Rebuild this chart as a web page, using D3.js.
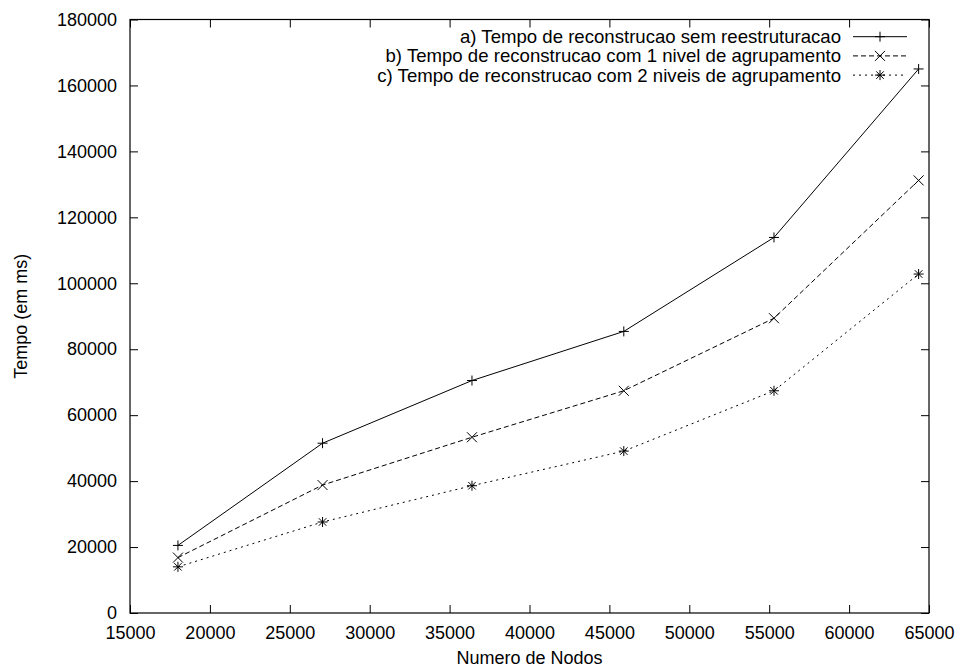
<!DOCTYPE html>
<html>
<head>
<meta charset="utf-8">
<script src="https://cdn.jsdelivr.net/npm/d3@7"></script>
<style>
  body { margin: 0; background: #fff; }
  text { font-family: "Liberation Sans", Arial, Helvetica, sans-serif; fill: #000; }
</style>
</head>
<body>
<script>
// #### data ####
var nodos = [18000, 27050, 36400, 45900, 55300, 64350];
var semReestr = [20500, 51500, 70500, 85400, 113900, 165000];
var umNivel = [16800, 38800, 53300, 67400, 89400, 131200];
var doisNiveis = [14000, 27600, 38600, 49100, 67400, 102800];

var xTicks = [15000, 20000, 25000, 30000, 35000, 40000, 45000, 50000, 55000, 60000, 65000];
var yTicks = [0, 20000, 40000, 60000, 80000, 100000, 120000, 140000, 160000, 180000];

var seriesNames = [
  "a) Tempo de reconstrucao sem reestruturacao",
  "b) Tempo de reconstrucao com 1 nivel de agrupamento",
  "c) Tempo de reconstrucao com 2 niveis de agrupamento"
];

var series = [
  {name: seriesNames[0], values: semReestr, dash: null, marker: "plus"},
  {name: seriesNames[1], values: umNivel, dash: "5,3", marker: "cross"},
  {name: seriesNames[2], values: doisNiveis, dash: "2,4", marker: "star"}
];

// #### layout ####
var W = 960, H = 667;
var margin = {top: 19.5, right: 31, bottom: 54, left: 130};
var width = W - margin.left - margin.right;
var height = H - margin.top - margin.bottom;
var fontSize = "18px";

var svg = d3.select("body").append("svg")
  .attr("width", W)
  .attr("height", H);

var g = svg.append("g")
  .attr("transform", "translate(" + margin.left + "," + margin.top + ")");

var x = d3.scaleLinear().domain([15000, 65000]).range([0, width]);
var y = d3.scaleLinear().domain([0, 180000]).range([height, 0]);

// axes with inward ticks, mirrored on opposite sides
var tickLen = 8;

g.append("g")
  .attr("transform", "translate(0," + height + ")")
  .call(d3.axisBottom(x).tickValues(xTicks).tickFormat(d3.format("d")).tickSizeInner(-tickLen).tickSizeOuter(0).tickPadding(13))
  .call(function(s) { s.select(".domain").remove(); });

g.append("g")
  .call(d3.axisTop(x).tickValues(xTicks).tickFormat("").tickSizeInner(-tickLen).tickSizeOuter(0))
  .call(function(s) { s.select(".domain").remove(); });

g.append("g")
  .call(d3.axisLeft(y).tickValues(yTicks).tickFormat(d3.format("d")).tickSizeInner(-tickLen).tickSizeOuter(0).tickPadding(13))
  .call(function(s) { s.select(".domain").remove(); });

g.append("g")
  .attr("transform", "translate(" + width + ",0)")
  .call(d3.axisRight(y).tickValues(yTicks).tickFormat("").tickSizeInner(-tickLen).tickSizeOuter(0))
  .call(function(s) { s.select(".domain").remove(); });

g.selectAll(".tick text").style("font-size", fontSize).style("font-family", "Liberation Sans, Arial, sans-serif");
g.selectAll(".tick line").attr("stroke", "#000");

// frame
g.append("rect")
  .attr("width", width)
  .attr("height", height)
  .attr("fill", "none")
  .attr("stroke", "#000")
  .attr("stroke-width", 1.2);

// axis titles
svg.append("text")
  .attr("x", margin.left + x(40000))
  .attr("y", H - 3)
  .attr("text-anchor", "middle")
  .style("font-size", fontSize)
  .text("Numero de Nodos");

svg.append("text")
  .attr("transform", "translate(27," + (margin.top + y(90000)) + ") rotate(-90)")
  .attr("text-anchor", "middle")
  .style("font-size", fontSize)
  .text("Tempo (em ms)");

// markers
var mk = 5;
function drawMarker(sel, type, cx, cy) {
  var p = d3.path();
  if (type === "plus" || type === "star") {
    p.moveTo(cx - mk, cy); p.lineTo(cx + mk, cy);
    p.moveTo(cx, cy - mk); p.lineTo(cx, cy + mk);
  }
  if (type === "cross" || type === "star") {
    var d = type === "star" ? mk * 0.75 : mk;
    p.moveTo(cx - d, cy - d); p.lineTo(cx + d, cy + d);
    p.moveTo(cx - d, cy + d); p.lineTo(cx + d, cy - d);
  }
  sel.append("path").attr("d", p.toString()).attr("stroke", "#000").attr("stroke-width", 1).attr("fill", "none");
}

var line = d3.line()
  .x(function(d) { return x(d.x); })
  .y(function(d) { return y(d.y); });

series.forEach(function(s) {
  var pts = nodos.map(function(v, i) { return {x: v, y: s.values[i]}; });
  g.append("path")
    .datum(pts)
    .attr("d", line)
    .attr("fill", "none")
    .attr("stroke", "#000")
    .attr("stroke-width", 1)
    .attr("stroke-dasharray", s.dash);
  pts.forEach(function(p) { drawMarker(g, s.marker, x(p.x), y(p.y)); });
});

// legend
var legend = svg.append("g");
series.forEach(function(s, i) {
  var ly = 36.7 + i * 19.2;
  legend.append("text")
    .attr("x", 841)
    .attr("y", ly + 6.5)
    .attr("text-anchor", "end")
    .style("font-size", "18.6px")
    .text(s.name);
  legend.append("line")
    .attr("x1", 853).attr("x2", 907)
    .attr("y1", ly).attr("y2", ly)
    .attr("stroke", "#000")
    .attr("stroke-width", 1)
    .attr("stroke-dasharray", s.dash);
  drawMarker(legend, s.marker, 880, ly);
});
</script>
</body>
</html>
